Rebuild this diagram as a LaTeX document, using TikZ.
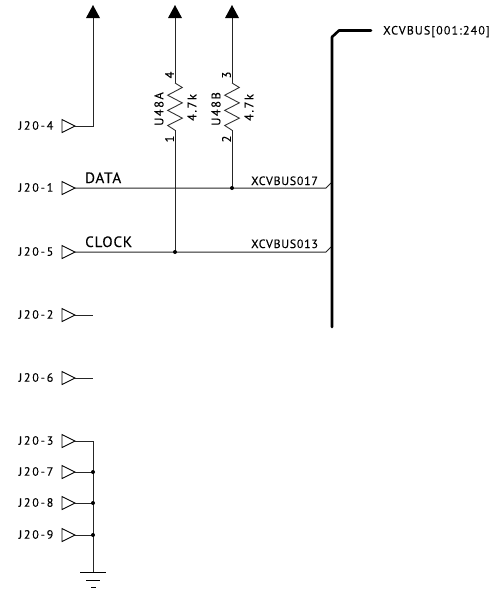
\documentclass[tikz,border=0pt]{standalone}
\usepackage{fontspec}
\setmainfont{PT Sans}[LetterSpace=6,FakeBold=0.25]
\newfontfamily\portfont{PT Sans}[LetterSpace=15,FakeBold=0.25]
\newfontfamily\busfont{PT Sans}[LetterSpace=9.5,FakeBold=0.25]
\newfontfamily\rotfont{PT Sans}[LetterSpace=12,FakeBold=0.25]
\begin{document}
\begin{tikzpicture}[x=1pt,y=-1pt,
  wire/.style={line width=1pt,black!85},
  busline/.style={line width=2.6pt,line cap=round,line join=round},
  thinwire/.style={line width=0.9pt,black!80},
  porttri/.style={draw,line width=0.9pt,fill=white},
  lab/.style={inner sep=0pt,font=\fontsize{12}{13}\selectfont},
  buslab/.style={inner sep=0pt,font=\busfont\fontsize{12}{13}\selectfont},
  portlab/.style={inner sep=0pt,font=\portfont\fontsize{12}{13}\selectfont},
  netlab/.style={inner sep=0pt,font=\fontsize{15}{16}\selectfont},
  rotlab/.style={inner sep=0pt,rotate=90,font=\rotfont\fontsize{12.5}{13}\selectfont},
  jdot/.style={circle,fill=black,inner sep=0pt,minimum size=4pt}]
\useasboundingbox (0,0) rectangle (492,595);
% port tips
\foreach \n/\y in {4/126,1/188,5/252,2/315,6/378,3/441,7/472,8/503,9/535}{
  \coordinate (p\n) at (75,\y);
  \draw[porttri] (62,\y-6.5) -- (75,\y) -- (62,\y+6.5) -- cycle;
  \node[portlab,anchor=east] (l\n) at (53.5,\y-0.5) {J20-\n};
}
% coordinates
\coordinate (c4) at (93,126);
\coordinate (a4) at (93,18);
\coordinate (aA) at (175,18);
\coordinate (aB) at (232,18);
\coordinate (rAt) at (175,83);
\coordinate (rAb) at (175,130);
\coordinate (rBt) at (232,83);
\coordinate (rBb) at (232,130);
\coordinate (jA) at (175,252);
\coordinate (jB) at (232,188);
\coordinate (e1) at (331,183);
\coordinate (e5) at (331,247);
\coordinate (k1) at (326,188);
\coordinate (k5) at (326,252);
\coordinate (g) at (93,572);
\coordinate (j3) at (93,441);
\coordinate (j7) at (93,472);
\coordinate (j8) at (93,503);
\coordinate (j9) at (93,535);
% wires
\draw[wire] (p4) -- (c4) -- (a4);
\draw[wire] (aA) -- (rAt);
\draw[wire] (aB) -- (rBt);
\draw[wire] (rAb) -- (jA);
\draw[wire] (rBb) -- (jB);
\draw[wire] (p1) -- (k1) -- (e1);
\draw[wire] (p5) -- (k5) -- (e5);
\draw[wire] (p2) -- (93,315);
\draw[wire] (p6) -- (93,378);
\draw[wire] (p3) -- (j3) -- (g);
\draw[wire] (p7) -- (j7);
\draw[wire] (p8) -- (j8);
\draw[wire] (p9) -- (j9);
% power arrows
\foreach \c in {a4,aA,aB}{
  \fill ([xshift=-7pt]\c) -- ([yshift=13pt]\c) -- ([xshift=7pt]\c) -- cycle;
}
% resistors
\foreach \c in {rAt,rBt}{
  \draw[thinwire,line join=miter] (\c)
    -- ++(7.3,4.5) -- ++(-14.6,7.7) -- ++(14.6,7.7) -- ++(-14.6,7.5) -- ++(14.6,7.7) -- ++(-14.6,7.4) -- ++(7.3,4.7);
}
% junctions
\foreach \j in {jA,jB,j7,j8,j9}{ \node[jdot] at (\j) {}; }
% bus
\draw[busline] (332,327) -- (332,37) -- (339,30.5) -- (371,30.5);
% ground
\draw[line width=0.9pt] (80,572.5) -- (106,572.5);
\draw[line width=0.9pt] (86,580) -- (100,580);
\draw[line width=0.9pt] (91,587.7) -- (96,587.7);
% labels
\node[netlab,anchor=base west] (data) at (85,183) {DATA};
\node[netlab,anchor=base west] (clock) at (85,247) {CLOCK};
\node[lab,anchor=base west] (b17) at (251,185) {XCVBUS017};
\node[lab,anchor=base west] (b13) at (251,248) {XCVBUS013};
\node[buslab,anchor=base west] (bus) at (383,34.5) {XCVBUS[001:240]};
\node[rotlab] (uA) at (159,109) {U48A};
\node[rotlab] (uB) at (216,109) {U48B};
\node[rotlab] (vA) at (192,107.5) {4.7k};
\node[rotlab] (vB) at (249,107.5) {4.7k};
\node[rotlab] (n4) at (169.5,75) {4};
\node[rotlab] (n1) at (169.5,139) {1};
\node[rotlab] (n3) at (226.5,75) {3};
\node[rotlab] (n2) at (226.5,139) {2};
\end{tikzpicture}
\end{document}
